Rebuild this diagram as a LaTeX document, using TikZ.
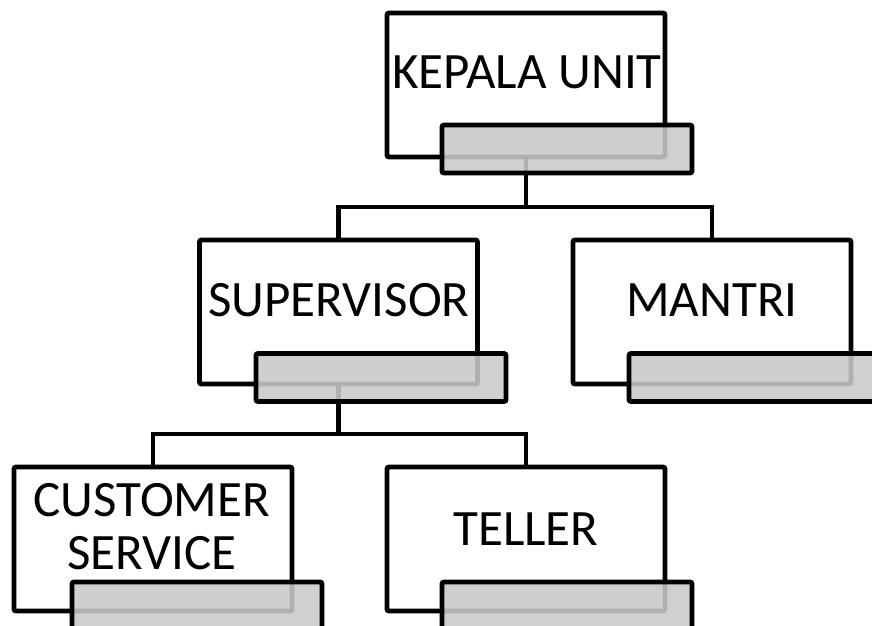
\documentclass[tikz,border=0pt]{standalone}
\usepackage{fontspec}
\setmainfont{Carlito}
\begin{document}
\begin{tikzpicture}[x=1pt,y=-1pt,
  mainbox/.style={draw=black,line width=4.8pt,fill=white,rounded corners=2pt,minimum width=278pt,minimum height=144pt,inner sep=0pt},
  shadebox/.style={draw=black,line width=4.8pt,fill={rgb,255:red,201;green,201;blue,201},fill opacity=0.88,draw opacity=1,rounded corners=2pt,minimum width=250pt,minimum height=48pt,inner sep=0pt},
  lbl/.style={font=\fontsize{51}{53}\selectfont,align=center,inner sep=0pt,text=black},
  conn/.style={draw=black,line width=4.8pt,line join=miter}]
\useasboundingbox (0,0) rectangle (872,625);
\clip (0,0) rectangle (872,625);
% main boxes
\node[mainbox] (kep) at (526,85) {};
\node[mainbox] (sup) at (338.5,312) {};
\node[mainbox] (man) at (712,312) {};
\node[mainbox] (cs) at (153,539) {};
\node[mainbox] (tel) at (526,539) {};
% connectors
\coordinate (b1) at (0,207);
\coordinate (b2) at (0,434);
\draw[conn] (kep.south) -- (kep.south |- b1) -| (sup.north);
\draw[conn] (kep.south |- b1) -| (man.north);
\draw[conn] (sup.south) -- (sup.south |- b2) -| (cs.north);
\draw[conn] (sup.south |- b2) -| (tel.north);
% shaded boxes
\node[shadebox] (kepg) at (567,149) {};
\node[shadebox] (supg) at (381,377.5) {};
\node[shadebox] (mang) at (754,377.5) {};
\node[shadebox] (csg) at (197,606) {};
\node[shadebox] (telg) at (567,606) {};
% labels
\node[lbl] (kept) at (527,72) {KEPALA UNIT};
\node[lbl] (supt) at (339,300) {SUPERVISOR};
\node[lbl] (mant) at (712,300) {MANTRI};
\node[lbl] (cst) at (152,527) {CUSTOMER\\SERVICE};
\node[lbl] (telt) at (526,529) {TELLER};
\end{tikzpicture}
\end{document}
